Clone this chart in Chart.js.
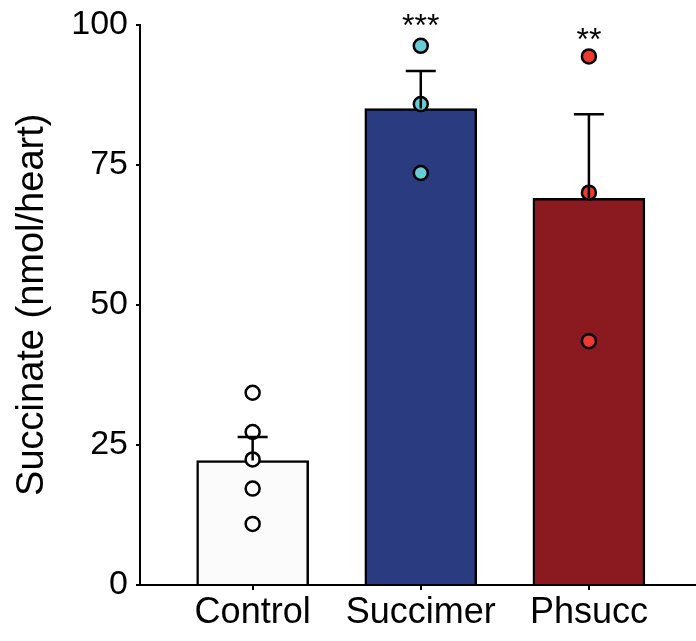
<!DOCTYPE html>
<html lang="en">
<head>
    <meta charset="UTF-8">
    <title>Succinate</title>
    <script src="https://cdn.jsdelivr.net/npm/chart.js"></script>
    <style>
        body { margin: 0; background: #fff; }
    </style>
</head>
<body>
    <canvas id="chart" width="696" height="641"></canvas>

    <script>
        const groups = ["Control", "Succimer", "Phsucc"];
        const means = [22.2, 85.0, 69.0];
        const errUpper = [26.4, 91.7, 84.0];
        const controlPts = [34.3, 27.3, 22.4, 17.2, 10.9];
        const succimerPts = [96.2, 85.8, 73.5];
        const phsuccPts = [94.3, 70.0, 43.5];
        const stars = ["", "***", "**"];
        const starY = [null, 98.0, 95.5];
        const yTicks = [0, 25, 50, 75, 100];

        const barColors = ["#fbfbfb", "#2a3b80", "#8a1a20"];
        const pointColors = ["#ffffff", "#66ccd5", "#ee3a2f"];
        const font = "'Liberation Sans', Arial, sans-serif";

        // whisker (upper only) drawn on top of bars and points
        const errorBars = {
            id: "errorBars",
            afterDatasetsDraw(chart) {
                const ctx = chart.ctx;
                const x = chart.scales.x, y = chart.scales.y;
                ctx.save();
                ctx.strokeStyle = "#000";
                ctx.lineWidth = 2.5;
                errUpper.forEach((e, i) => {
                    const px = x.getPixelForValue(i);
                    ctx.beginPath();
                    ctx.moveTo(px, y.getPixelForValue(means[i]));
                    ctx.lineTo(px, y.getPixelForValue(e));
                    ctx.moveTo(px - 15, y.getPixelForValue(e));
                    ctx.lineTo(px + 15, y.getPixelForValue(e));
                    ctx.stroke();
                });
                ctx.fillStyle = "#000";
                ctx.font = "32px " + font;
                ctx.textAlign = "center";
                ctx.textBaseline = "alphabetic";
                stars.forEach((s, i) => {
                    if (s) ctx.fillText(s, x.getPixelForValue(i), y.getPixelForValue(starY[i]));
                });
                ctx.restore();
            }
        };

        const scatterSet = (pts, i) => ({
            type: "scatter",
            data: pts.map(v => ({ x: i, y: v })),
            backgroundColor: pointColors[i],
            borderColor: "#000",
            borderWidth: 2.5,
            pointRadius: 7,
            clip: false,
            order: 1
        });

        new Chart(document.getElementById("chart"), {
            type: "bar",
            data: {
                datasets: [
                    {
                        data: means.map((v, i) => ({ x: i, y: v })),
                        backgroundColor: barColors,
                        borderColor: "#000",
                        borderWidth: 2.5,
                        barThickness: 112,
                        clip: false,
                        order: 2
                    },
                    scatterSet(controlPts, 0),
                    scatterSet(succimerPts, 1),
                    scatterSet(phsuccPts, 2)
                ]
            },
            options: {
                responsive: false,
                animation: false,
                layout: { autoPadding: false, padding: { top: 24.5, right: 0, left: 0, bottom: 0 } },
                plugins: { legend: { display: false }, tooltip: { enabled: false } },
                scales: {
                    x: {
                        type: "linear",
                        offset: false,
                        min: -0.67,
                        max: 2.637,
                        afterBuildTicks: s => { s.ticks = [0, 1, 2].map(v => ({ value: v })); },
                        afterFit: s => { s.height = 56; s.paddingRight = 0; s.paddingLeft = 0; },
                        ticks: {
                            callback: v => groups[v],
                            color: "#000",
                            font: { family: font, size: 36 },
                            padding: 1,
                            maxRotation: 0
                        },
                        grid: { drawOnChartArea: false, offset: false, color: "#000", lineWidth: 2, tickLength: 5 },
                        border: { color: "#000", width: 2 }
                    },
                    y: {
                        min: 0,
                        max: 100,
                        afterBuildTicks: s => { s.ticks = yTicks.map(v => ({ value: v })); },
                        afterFit: s => { s.width = 140; s.paddingTop = 0; s.paddingBottom = 0; },
                        ticks: {
                            color: "#000",
                            font: { family: font, size: 34 },
                            padding: 8
                        },
                        grid: { drawOnChartArea: false, color: "#000", lineWidth: 2, tickLength: 4 },
                        border: { color: "#000", width: 2 },
                        title: {
                            display: true,
                            text: "Succinate (nmol/heart)",
                            color: "#000",
                            font: { family: font, size: 38 },
                            padding: { top: 10, bottom: 0 }
                        }
                    }
                }
            },
            plugins: [errorBars]
        });
    </script>
</body>
</html>
